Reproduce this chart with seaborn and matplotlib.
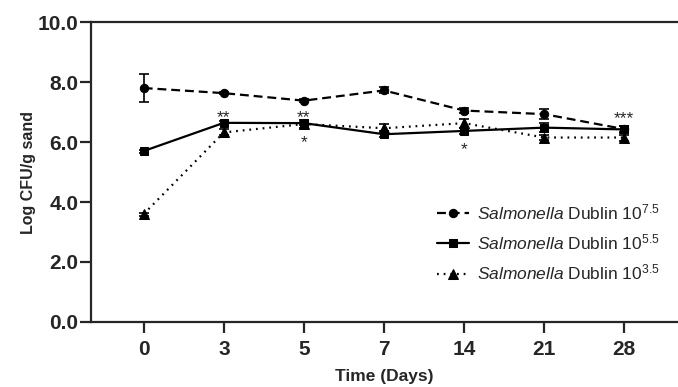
import pandas as pd
import matplotlib
matplotlib.use("Agg")
import matplotlib.pyplot as plt
import seaborn as sns

# data
days = ["0", "3", "5", "7", "14", "21", "28"]
hi_mean = [7.80, 7.63, 7.38, 7.72, 7.05, 6.93, 6.43]
hi_err = [0.48, 0.03, 0.05, 0.10, 0.07, 0.16, 0.12]
mid_mean = [5.70, 6.64, 6.63, 6.26, 6.37, 6.48, 6.42]
mid_err = [0.05, 0.05, 0.05, 0.10, 0.10, 0.15, 0.10]
low_mean = [3.60, 6.32, 6.60, 6.46, 6.63, 6.15, 6.15]
low_err = [0.05, 0.10, 0.12, 0.15, 0.15, 0.08, 0.10]
labels = [r"$\it{Salmonella}$ Dublin $10^{7.5}$",
          r"$\it{Salmonella}$ Dublin $10^{5.5}$",
          r"$\it{Salmonella}$ Dublin $10^{3.5}$"]
# significance marks: (day index, text, glyph centre)
stars = [(1, "**", 6.97), (2, "**", 6.97), (6, "***", 6.95),
         (2, "*", 6.16), (4, "*", 5.93)]

sns.set_style("ticks")
plt.rcParams['font.family'] = ['Liberation Sans', 'DejaVu Sans']
plt.rcParams['mathtext.fontset'] = 'custom'
plt.rcParams['mathtext.rm'] = 'Liberation Sans'
plt.rcParams['mathtext.it'] = 'Liberation Sans:italic'

fig = plt.figure(figsize=(6.78, 3.87), dpi=100)
ax = fig.add_axes([0.134, 0.168, 0.866, 0.775])

pos = list(range(len(days)))
series = [
    (hi_mean, hi_err, labels[0], (0, (4, 2.2)), "o", 6),
    (mid_mean, mid_err, labels[1], "-", "s", 6),
    (low_mean, low_err, labels[2], (0, (0.8, 2.2)), "^", 6.5),
]
for mean, err, lab, ls, mk, ms in series:
    df = pd.DataFrame({"x": pos, "y": mean})
    sns.lineplot(data=df, x="x", y="y", ax=ax, color="black", lw=1.6,
                 linestyle=ls, marker=mk, markersize=ms, markeredgecolor="black",
                 label=lab)
    ax.errorbar(pos, mean, yerr=err, fmt="none", ecolor="black",
                elinewidth=1.2, capsize=3.5, capthick=1.2)

for i, s, yc in stars:
    # asterisk glyph sits high in the em box, so shift baseline down
    ax.text(i, yc - 0.32, s, ha="center", va="baseline", fontsize=12.5)

ax.set_xlim(-0.66, 6.67)
ax.set_ylim(0, 10)
ax.set_yticks([0, 2, 4, 6, 8, 10])
ax.set_yticklabels(["%.1f" % v for v in [0, 2, 4, 6, 8, 10]])
ax.set_xticks(pos)
ax.set_xticklabels(days)
for lab in ax.get_xticklabels() + ax.get_yticklabels():
    lab.set_fontweight("bold")
    lab.set_fontsize(15)
ax.tick_params(width=1.6, length=8)
ax.tick_params(axis="y", pad=1)
ax.tick_params(axis="x", pad=5)
ax.set_xlabel("Time (Days)", fontsize=12.5, weight="bold", labelpad=7)
ax.set_ylabel("Log CFU/g sand", fontsize=11.5, weight="bold", labelpad=1)

for side in ["left", "bottom", "top"]:
    ax.spines[side].set_linewidth(1.6)
ax.spines["right"].set_visible(False)
ax.spines["top"].set_visible(True)

ax.legend(loc="center left", bbox_to_anchor=(0.59, 0.265), frameon=False,
          fontsize=12.5, handlelength=1.8, handletextpad=0.5, labelspacing=0.6,
          borderpad=0, borderaxespad=0)

plt.savefig("out.png", dpi=100)
